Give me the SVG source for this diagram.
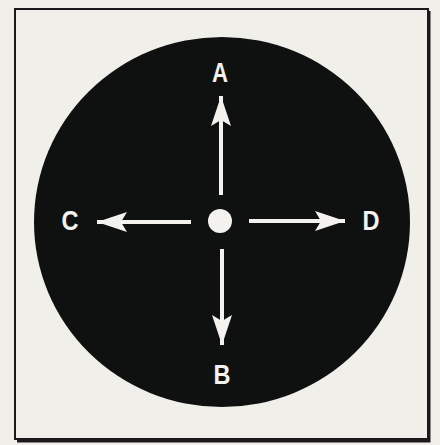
<svg xmlns="http://www.w3.org/2000/svg" width="440" height="445" viewBox="0 0 440 445">
<style>
.lbl{font-family:"Liberation Sans",Arial,sans-serif;font-weight:bold;font-size:28px;fill:#f4f2ee;text-anchor:middle}
.shaft{stroke:#f4f2ee;stroke-width:4;fill:none}
.head{fill:#f4f2ee}
</style>
<defs>
<marker id="ah" viewBox="0 0 30 20" refX="30" refY="10" markerWidth="30" markerHeight="20" markerUnits="userSpaceOnUse" orient="auto">
<path class="head" d="M30 10 L0 0 L6 10 L0 20 Z"/>
</marker>
</defs>
<rect width="440" height="445" fill="#f1efea"/>
<g id="frame">
<rect x="15" y="9" width="413" height="430" fill="none" stroke="#1a1a1a" stroke-width="2"/>
<path d="M429 11 V441 H17" fill="none" stroke="#1a1a1a" stroke-width="3"/>
</g>
<g id="disc">
<ellipse cx="222" cy="222" rx="188" ry="185" fill="#0f1110"/>
</g>
<g id="center">
<circle cx="220" cy="221" r="12" fill="#f4f2ee"/>
</g>
<g id="connectors">
<line class="shaft" x1="221" y1="195" x2="221" y2="96" marker-end="url(#ah)"/>
<line class="shaft" x1="222" y1="249" x2="222" y2="345" marker-end="url(#ah)"/>
<line class="shaft" x1="191" y1="222" x2="97" y2="222" marker-end="url(#ah)"/>
<line class="shaft" x1="249" y1="221" x2="345" y2="221" marker-end="url(#ah)"/>
</g>
<g id="label-A"><text class="lbl" x="220" y="82" textLength="16" lengthAdjust="spacingAndGlyphs">A</text></g>
<g id="label-B"><text class="lbl" x="222" y="384" textLength="17" lengthAdjust="spacingAndGlyphs">B</text></g>
<g id="label-C"><text class="lbl" x="70" y="230" textLength="17" lengthAdjust="spacingAndGlyphs">C</text></g>
<g id="label-D"><text class="lbl" x="371" y="230" textLength="17" lengthAdjust="spacingAndGlyphs">D</text></g>
</svg>
